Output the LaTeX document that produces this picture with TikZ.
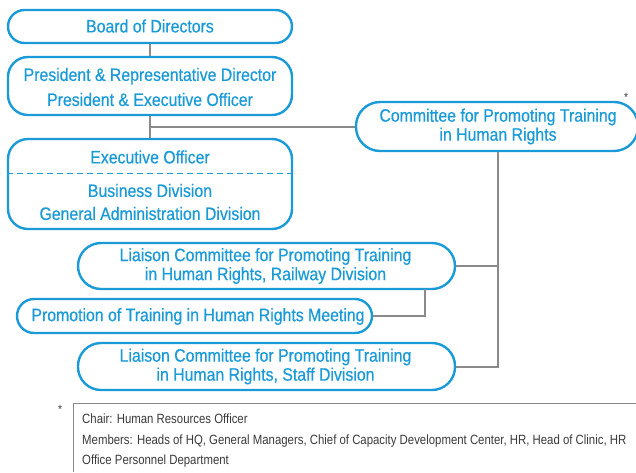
\documentclass[tikz,border=0pt]{standalone}
\usepackage{fontspec}
\setmainfont{Liberation Sans}[FakeStretch=0.88,FakeBold=0.6]
\newfontfamily\notefont{Liberation Sans}[FakeStretch=0.85]
\definecolor{jblue}{HTML}{1A9AD7}
\definecolor{jgray}{HTML}{8A8A8A}
\definecolor{ntext}{HTML}{3A3A3A}
\begin{document}
\begin{tikzpicture}[x=1pt,y=1pt,
  box/.style={draw=jblue,line width=2.4pt,rectangle,inner sep=0pt},
  lbl/.style={text=jblue,font=\fontsize{18}{19}\selectfont,align=center,inner sep=0pt},
  conn/.style={draw=jgray,line width=2pt}]
\useasboundingbox (0,0) rectangle (636,-472);
% boxes
\node[box,rounded corners=16.5pt,minimum width=284,minimum height=33] (board) at (150,-26.5) {};
\node[lbl] (boardt) at (150,-26) {Board of Directors};
\node[box,rounded corners=20pt,minimum width=284,minimum height=58] (pres) at (150,-86) {};
\node[lbl,font=\fontsize{18}{25}\selectfont] (prest) at (150,-87) {President \& Representative Director\\President \& Executive Officer};
\node[box,rounded corners=20pt,minimum width=284,minimum height=90] (exec) at (150,-184) {};
\node[lbl] (exect) at (150,-157) {Executive Officer};
\node[lbl,font=\fontsize{18}{23}\selectfont] (execd) at (150,-202) {Business Division\\General Administration Division};
\draw[draw=jblue,line width=1pt,dash pattern=on 6pt off 4pt] (exec.west |- 0,-173) coordinate (dl) -- (exec.east |- 0,-173) coordinate (dr);
\node[box,rounded corners=24pt,minimum width=282,minimum height=49] (comm) at (497,-126.5) {};
\node[lbl,font=\fontsize{18}{19}\selectfont] (commt) at (498,-126.5) {Committee for Promoting Training\\in Human Rights};
\node[box,rounded corners=23pt,minimum width=377,minimum height=46] (rail) at (266.5,-266) {};
\node[lbl,font=\fontsize{18}{19}\selectfont] (railt) at (265.5,-266) {Liaison Committee for Promoting Training\\in Human Rights, Railway Division};
\node[box,rounded corners=17pt,minimum width=355,minimum height=34] (prom) at (194.5,-316) {};
\node[lbl] (promt) at (198,-316.5) {Promotion of Training in Human Rights Meeting};
\node[box,rounded corners=23pt,minimum width=377,minimum height=47] (staff) at (266.5,-366.5) {};
\node[lbl,font=\fontsize{18}{19}\selectfont] (stafft) at (265.5,-366.5) {Liaison Committee for Promoting Training\\in Human Rights, Staff Division};
% connectors
\draw[conn] (board.south) -- (pres.north);
\draw[conn] (pres.south) -- (exec.north);
\coordinate (j1) at (150,-126.5);
\draw[conn] (j1) -- (comm.west);
\coordinate (j2) at (498,-366.5);
\draw[conn] (comm.south -| j2) -- (j2) -- (staff.east);
\coordinate (j3) at (498,-266);
\draw[conn] (rail.east) -- (j3);
\coordinate (rb) at (425,-289);
\coordinate (j4) at (425,-316);
\draw[conn] (rb) -- (j4) -- (prom.east);
% stars
\node[text=ntext,font=\notefont\fontsize{12}{12}\selectfont,inner sep=0pt] (star1) at (626,-97) {*};
\node[text=ntext,font=\notefont\fontsize{12}{12}\selectfont,inner sep=0pt] (star2) at (60,-409) {*};
% footnote box
\coordinate (fb) at (73,-472);
\coordinate (ft) at (73,-403);
\coordinate (fr) at (640,-403);
\draw[draw=jgray,line width=1pt] (fb) -- (ft) -- (fr);
\node[text=ntext,font=\notefont\fontsize{13.4}{20.5}\selectfont,align=left,anchor=north west,inner sep=0pt] (note) at (82,-414) {Chair: Human Resources Officer\\Members: Heads of HQ, General Managers, Chief of Capacity Development Center, HR, Head of Clinic, HR\\Office Personnel Department};
\end{tikzpicture}
\end{document}
